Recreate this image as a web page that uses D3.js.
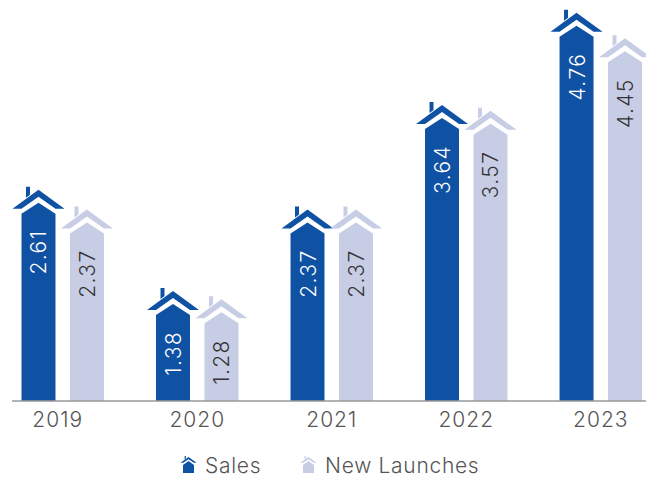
<!DOCTYPE html>
<html>
<head>
<meta charset="utf-8">
<script src="https://cdn.jsdelivr.net/npm/d3@7"></script>
<style>
  html, body { margin: 0; padding: 0; background: #fff; }
  svg { display: block; }
  text { font-family: Inter, "Open Sans", sans-serif; font-weight: 300; }
</style>
</head>
<body>
<div id="chart-area"></div>
<script>
/***** Data *****/
const years = ["2019", "2020", "2021", "2022", "2023"];
const seriesNames = ["Sales", "New Launches"];
const sales = [2.61, 1.38, 2.37, 3.64, 4.76];
const newLaunches = [2.37, 1.28, 2.37, 3.57, 4.45];
const seriesColors = ["#0f51a3", "#c8cde6"];

/***** Layout *****/
const width = 646, height = 477, baseY = 401;

const svg = d3.select("#chart-area").append("svg")
    .attr("width", width)
    .attr("height", height);

const x0 = d3.scaleBand().domain(years).range([21.5, 642]).paddingInner(0.387);
const x1 = d3.scaleBand().domain(seriesNames).range([0, x0.bandwidth()]).paddingInner(0.299);
// the picture's bars don't start from zero, peak heights fit this range
const y = d3.scaleLinear().domain([0.2, 5]).range([baseY, 6]);

// bar with a pointed top, p = y of the peak
function barPath(bw, p, base, shoulder) {
  return d3.line()([[0, base], [0, p + shoulder], [bw / 2, p], [bw, p + shoulder], [bw, base]]) + "Z";
}
// chevron roof + chimney above the peak
function roofPath(cx, p, s = 1) {
  const pt = (dx, dy) => [cx + dx * s, p + dy * s];
  const roof = d3.line()([pt(-26, 6), pt(0, -13), pt(26, 6), pt(17, 6), pt(0, -6), pt(-17, 6)]) + "Z";
  const chim = d3.line()([pt(-12.5, -16), pt(-8.5, -16), pt(-8.5, -8), pt(-12.5, -5)]) + "Z";
  return roof + chim;
}

/***** Bars *****/
const rows = seriesNames.map((name, i) => ({
  name, color: seriesColors[i], values: i === 0 ? sales : newLaunches
}));

const groups = svg.selectAll("g.series").data(rows).join("g").attr("class", "series");

const cells = groups.selectAll("g").data(d => d.values.map((v, i) => ({
  v, year: years[i], name: d.name, color: d.color
}))).join("g")
    .attr("transform", d => `translate(${x0(d.year) + x1(d.name)},0)`);

cells.append("path")
    .attr("fill", d => d.color)
    .attr("d", d => barPath(x1.bandwidth(), y(d.v), baseY, 11));

cells.append("path")
    .attr("fill", d => d.color)
    .attr("d", d => roofPath(x1.bandwidth() / 2, y(d.v)));

cells.append("text")
    .attr("transform", d => `translate(${x1.bandwidth() / 2 + 8},${y(d.v) + 27}) rotate(-90)`)
    .attr("text-anchor", "end")
    .attr("font-size", 21)
    .attr("letter-spacing", 1.4)
    .attr("fill", d => d.name === "Sales" ? "#fff" : "#333")
    .text(d => d.v.toFixed(2));

/***** Axis *****/
svg.append("line")
    .attr("x1", 12).attr("x2", 646)
    .attr("y1", baseY).attr("y2", baseY)
    .attr("stroke", "#999").attr("stroke-width", 1.5);

const gx = svg.append("g")
    .attr("transform", `translate(0,${baseY})`)
    .call(d3.axisBottom(x0).tickSize(0).tickPadding(11));
gx.select(".domain").remove();
gx.selectAll("text")
    .attr("font-size", 21)
    .attr("font-family", 'Inter, "Open Sans", sans-serif')
    .attr("letter-spacing", 1)
    .attr("dx", (d, i) => i === 0 ? -5 : 0)   // first label sits left of its group
    .attr("fill", "#555");

/***** Legend *****/
const legendX = [188.5, 308.5];
const legend = svg.selectAll("g.legend").data(rows).join("g")
    .attr("class", "legend")
    .attr("transform", (d, i) => `translate(${legendX[i]},0)`);

legend.append("path")
    .attr("fill", d => d.color)
    .attr("d", barPath(11, 461, 473, 4))
    .attr("transform", "translate(-5.5,0)");
legend.append("path")
    .attr("fill", d => d.color)
    .attr("d", roofPath(0, 461, 0.31));
legend.append("text")
    .attr("x", 16.5).attr("y", 473)
    .attr("font-size", 21)
    .attr("letter-spacing", 0.7)
    .attr("fill", "#555")
    .text(d => d.name);
</script>
</body>
</html>
